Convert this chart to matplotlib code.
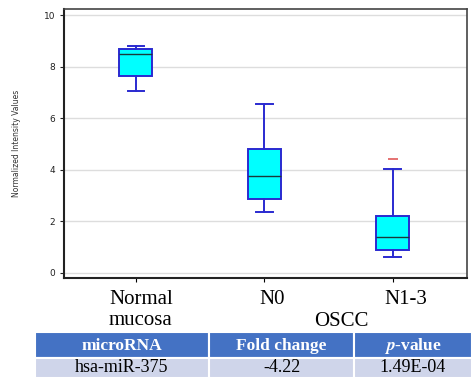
import matplotlib
matplotlib.use("Agg")
import matplotlib.pyplot as plt
from matplotlib.patches import Rectangle
from matplotlib.transforms import ScaledTranslation

# box statistics
groups = ["Normal\nmucosa", "N0", "N1-3"]
whislo = [7.05, 2.36, 0.61]
q1 = [7.65, 2.85, 0.88]
med = [8.51, 3.77, 1.40]
q3 = [8.68, 4.81, 2.22]
whishi = [8.80, 6.54, 4.05]
fliers = [[], [], [4.41]]

y_ticks = [0, 2, 4, 6, 8, 10]
tbl_header = ["microRNA", "Fold change", r"$\mathbfit{p}$-value"]
tbl_row = ["hsa-miR-375", "-4.22", "1.49E-04"]

SERIF = "Liberation Serif"
plt.rcParams["mathtext.fontset"] = "stix"

fig = plt.figure(figsize=(4.72, 3.78), dpi=100)
ax = fig.add_axes([0.1356, 0.2653, 0.854, 0.710])

stats = [dict(whislo=a, q1=b, med=c, q3=d, whishi=e, fliers=f)
         for a, b, c, d, e, f in zip(whislo, q1, med, q3, whishi, fliers)]
ax.bxp(stats, positions=[1, 2, 3], widths=0.257, patch_artist=True,
       capwidths=0.13, showfliers=True,
       boxprops=dict(facecolor="#00ffff", edgecolor="#2a2ad0", lw=1.4),
       whiskerprops=dict(color="#2a2ad0", lw=1.4),
       capprops=dict(color="#2a2ad0", lw=1.4),
       medianprops=dict(color="#1a3a3a", lw=1.0),
       flierprops=dict(marker="_", markeredgecolor="#e05a5a", markersize=7, mew=1.2))

ax.set_xlim(0.44, 3.58)
ax.set_ylim(-0.19, 10.23)
ax.set_yticks(y_ticks)
ax.tick_params(axis="y", labelsize=6.5, length=3, colors="#222222")
ax.set_xticks([1, 2, 3])
ax.set_xticklabels(groups, family=SERIF, fontsize=15, linespacing=1.15)
ax.tick_params(axis="x", length=3, pad=6)
# labels sit a little right of their ticks in the reference
for lab, dx in zip(ax.get_xticklabels(), [5, 8, 13]):
    lab.set_transform(lab.get_transform() + ScaledTranslation(dx / 100, 0, fig.dpi_scale_trans))
ax.grid(axis="y", color="#dddddd", lw=1.0)
ax.set_axisbelow(True)
for s in ["left", "bottom"]:
    ax.spines[s].set_linewidth(1.5)
    ax.spines[s].set_color("#222222")
for s in ["top", "right"]:
    ax.spines[s].set_linewidth(1.2)
    ax.spines[s].set_color("#444444")
fig.text(0.036, 0.62, "Normalized Intensity Values", rotation=90, fontsize=5.5,
         va="center", ha="center", color="#333333")

# table under the chart
tax = fig.add_axes([0, 0, 1, 1], zorder=-1)
tax.set_xlim(0, 472)
tax.set_ylim(378, 0)
tax.axis("off")
tax.text(341, 326, "OSCC", family=SERIF, fontsize=15, ha="center", va="baseline")
cols = [35, 209, 354, 472]
for i in range(3):
    tax.add_patch(Rectangle((cols[i], 332), cols[i + 1] - cols[i], 26,
                            fc="#4472c4", ec="white", lw=1.5))
    tax.add_patch(Rectangle((cols[i], 358), cols[i + 1] - cols[i], 20,
                            fc="#cfd5ea", ec="white", lw=1.5))
    xc = (cols[i] + cols[i + 1]) / 2
    tax.text(xc, 345.5, tbl_header[i], family=SERIF, fontsize=12.5,
             fontweight="bold", color="white", ha="center", va="center")
    tax.text(xc, 368, tbl_row[i], family=SERIF, fontsize=13,
             color="black", ha="center", va="center")

fig.savefig("out.png", dpi=100)
